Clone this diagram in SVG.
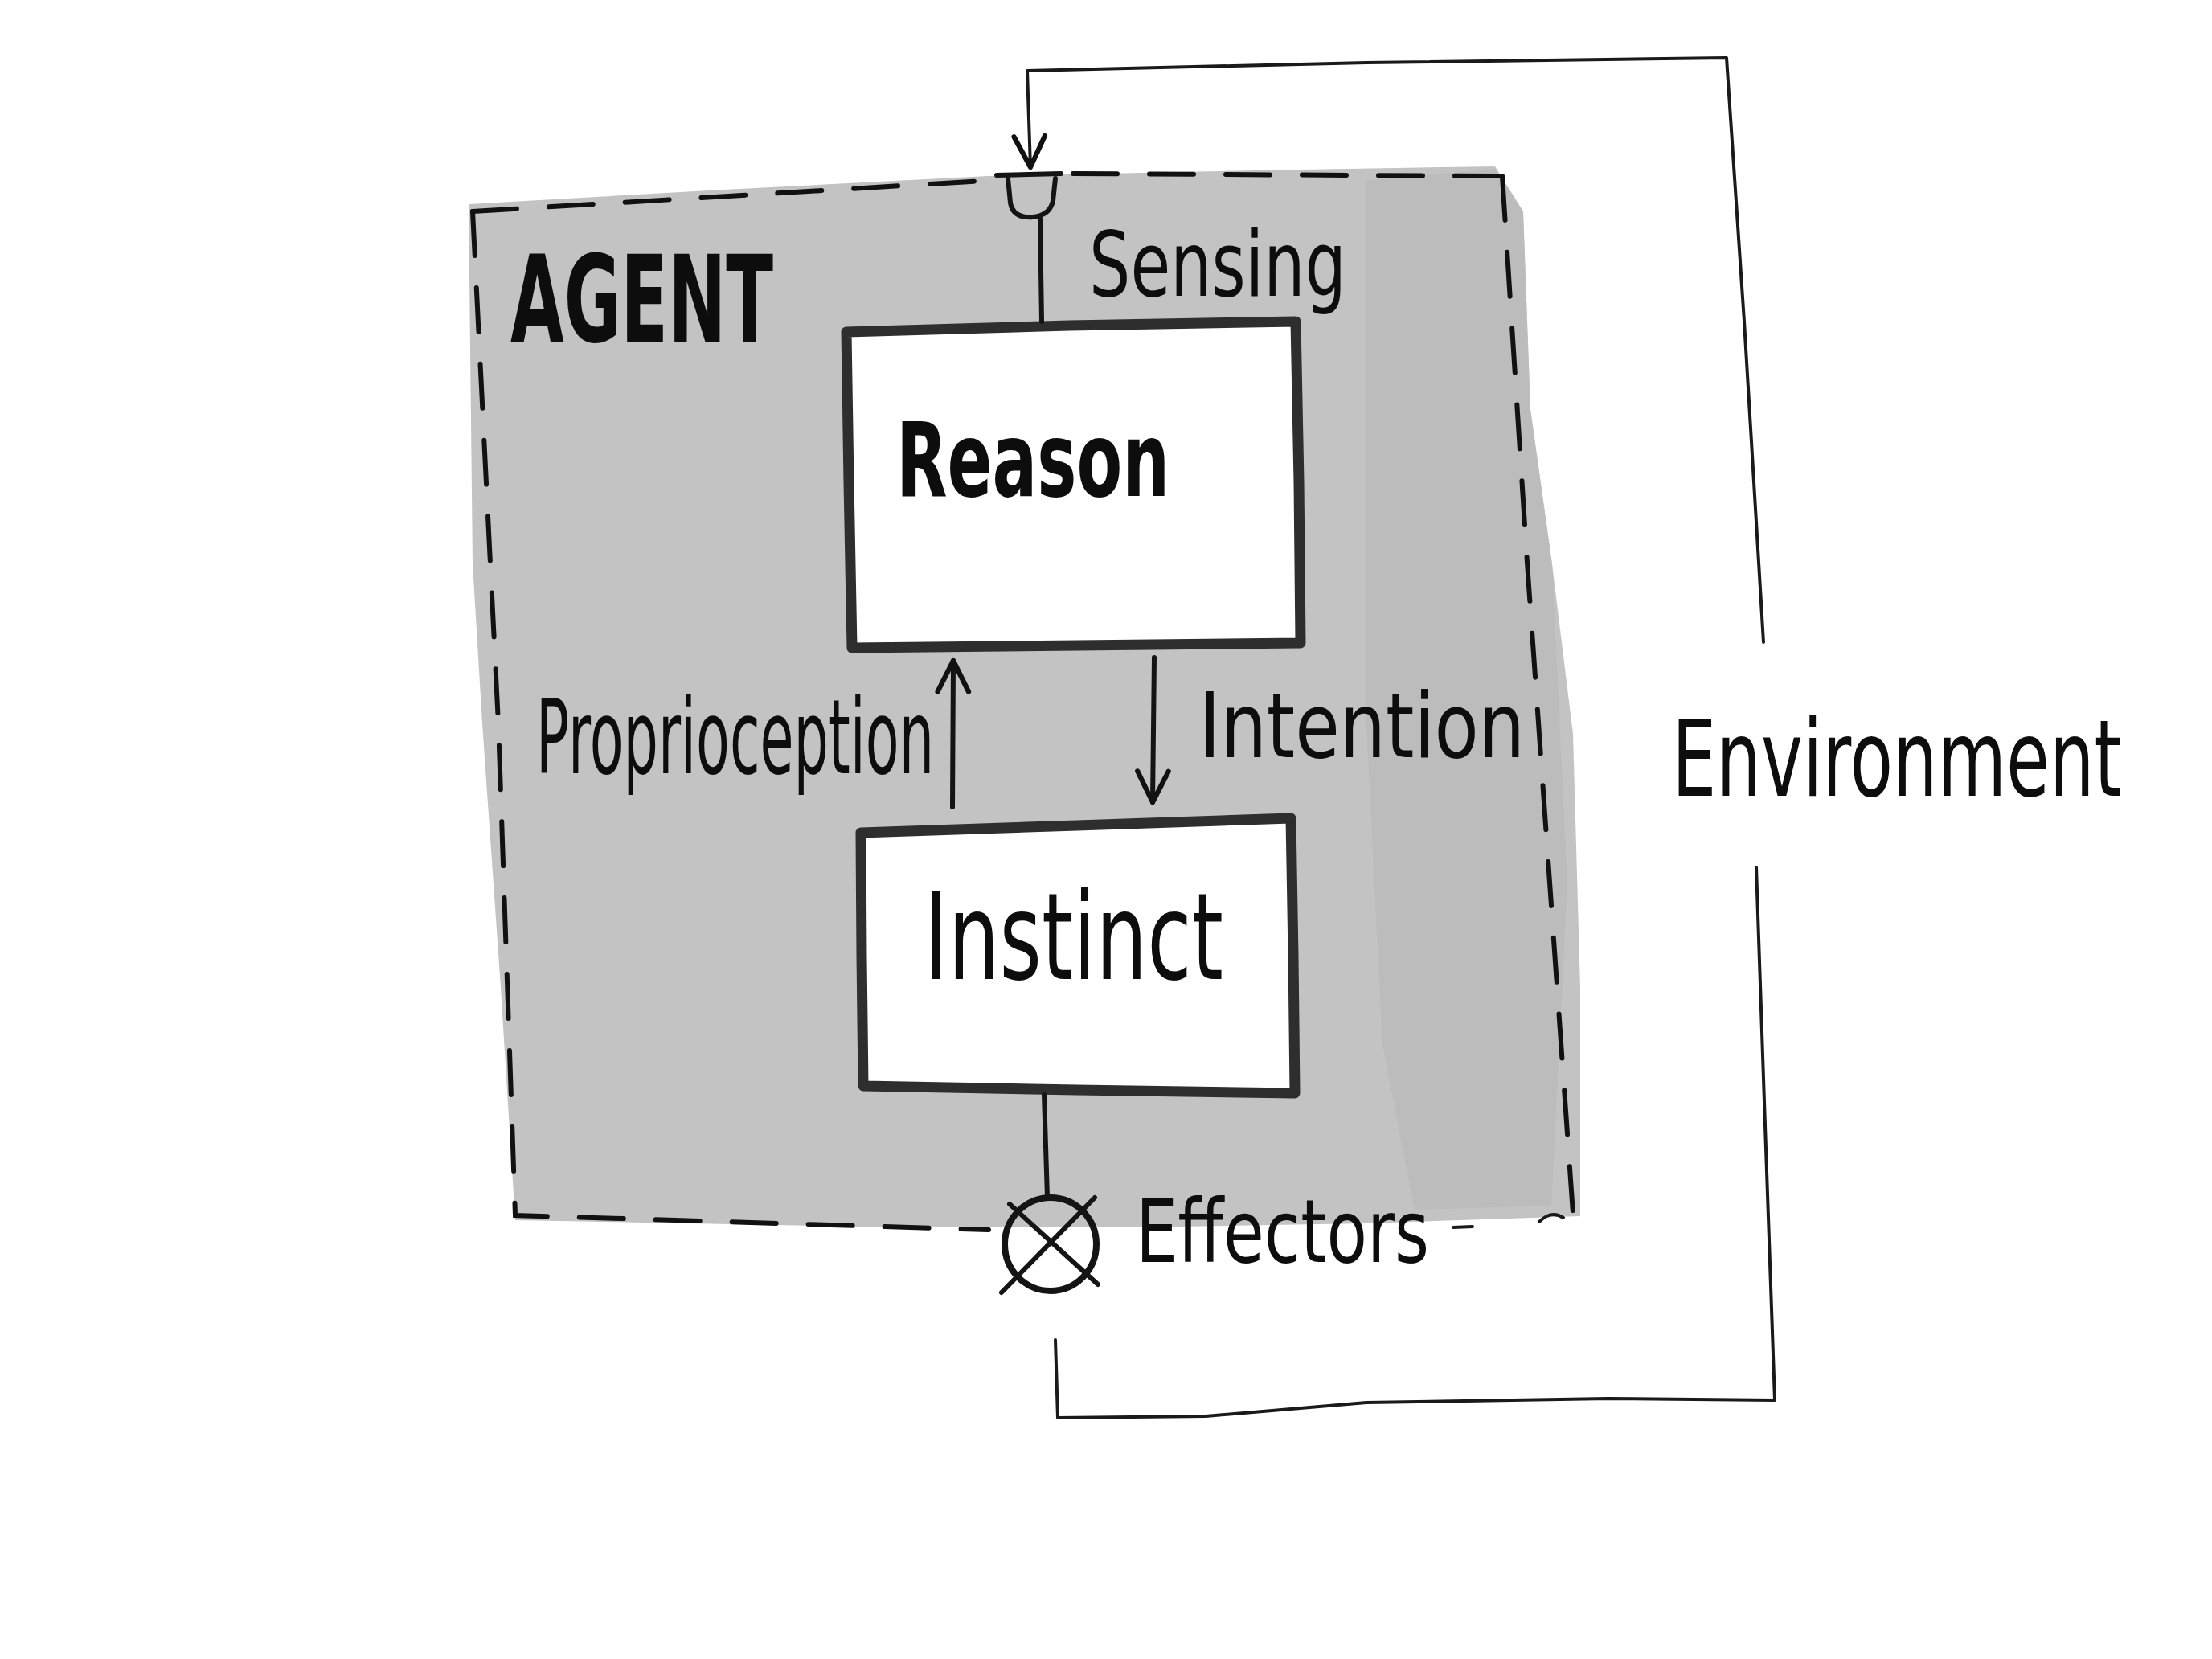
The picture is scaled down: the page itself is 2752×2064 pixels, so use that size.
<svg xmlns="http://www.w3.org/2000/svg" width="2752" height="2064" viewBox="0 0 2752 2064">
  <defs>
    <style>
      .ink { fill: none; stroke: #141414; stroke-width: 6; stroke-linecap: round; stroke-linejoin: round; }
      .thin { fill: none; stroke: #1a1a1a; stroke-width: 4; stroke-linecap: round; stroke-linejoin: round; }
      .dash { fill: none; stroke: #111; stroke-width: 6; stroke-linecap: round; stroke-dasharray: 55 40; }
      .box { fill: #ffffff; stroke: #2e2e2e; stroke-width: 13; stroke-linejoin: round; }
      .lbl { font-family: "DejaVu Sans", "Liberation Sans", sans-serif; fill: #0d0d0d; }
      .heavy { font-weight: bold; }
    </style>
    <marker id="arr" viewBox="0 0 20 20" refX="18" refY="10" markerWidth="48" markerHeight="48" markerUnits="userSpaceOnUse" orient="auto">
      <path d="M2,2 L18,10 L2,18" fill="none" stroke="#111" stroke-width="2.6" stroke-linecap="round" stroke-linejoin="round"/>
    </marker>
  </defs>

  <rect x="0" y="0" width="2752" height="2064" fill="#ffffff"/>

  <g id="agent">
    <path d="M583,254 L900,236 L1229,219 L1560,212 L1860,207 L1895,263 L1904,509 L1931,702 L1957,913 L1966,1229 L1966,1513 L1700,1522 L1404,1527 L1123,1527 L641,1518 L623,1229 L600,900 L588,702 Z" fill="#c3c3c3"/>
    <path d="M1700,225 L1860,210 L1895,263 L1904,509 L1931,702 L1950,1100 L1930,1500 L1760,1505 L1720,1300 L1700,900 Z" fill="#b9b9b9" opacity="0.7"/>
    <path class="dash" d="M588,263 L1240,224"/>
    <path class="dash" d="M1335,216 L1869,219"/>
    <path class="dash" d="M1869,219 L1900,700 L1957,1510"/>
    <path class="dash" d="M588,263 L620,900 L641,1512 L1230,1530"/>
    <path class="thin" d="M1808,1527 L1832,1526" stroke-width="6"/>
    <path class="thin" d="M1915,1520 Q1930,1505 1945,1515"/>
    <text class="lbl heavy" x="635" y="425" font-size="150" textLength="327" lengthAdjust="spacingAndGlyphs">AGENT</text>
  </g>

  <g id="sensor">
    <path class="ink" d="M1240,218 L1320,216"/>
    <path class="ink" d="M1254,222 L1257,252 Q1260,272 1285,270 Q1306,268 1310,250 L1313,222" stroke-width="8"/>
    <text class="lbl" x="1355" y="368" font-size="112" textLength="320" lengthAdjust="spacingAndGlyphs">Sensing</text>
  </g>

  <g id="reason">
    <path class="box" d="M1053,413 L1330,405 L1612,400 L1616,600 L1618,800 L1340,803 L1060,806 L1056,600 Z"/>
    <text class="lbl heavy" x="1115" y="617" font-size="128" textLength="340" lengthAdjust="spacingAndGlyphs">Reason</text>
  </g>

  <g id="instinct">
    <path class="box" d="M1071,1036 L1340,1027 L1606,1018 L1609,1190 L1611,1360 L1340,1356 L1074,1351 L1072,1190 Z"/>
    <text class="lbl" x="1150" y="1218" font-size="150" textLength="372" lengthAdjust="spacingAndGlyphs">Instinct</text>
  </g>

  <g id="effector">
    <ellipse cx="1307" cy="1548" rx="57" ry="58" fill="none" stroke="#141414" stroke-width="8"/>
    <path class="ink" d="M1246,1608 L1362,1490" stroke-width="9"/>
    <path class="ink" d="M1256,1498 L1366,1598" stroke-width="9"/>
    <text class="lbl" x="1413" y="1570" font-size="108" textLength="365" lengthAdjust="spacingAndGlyphs">Effectors</text>
  </g>

  <g id="environment">
    <text class="lbl" x="2080" y="990" font-size="132" textLength="560" lengthAdjust="spacingAndGlyphs">Environment</text>
  </g>

  <g id="connectors">
    <path class="ink" d="M1294,272 L1296,400" stroke-width="6"/>
    <path class="ink" d="M1299,1362 L1303,1490" stroke-width="8"/>
    <path class="ink" d="M1185,1004 L1186,822" stroke-width="5" marker-end="url(#arr)"/>
    <path class="ink" d="M1436,818 L1434,998" stroke-width="8" marker-end="url(#arr)"/>
    <path class="thin" d="M2194,799 L2170,400 L2148,72 L1700,78 L1278,88 L1282,208" marker-end="url(#arr)"/>
    <path class="thin" d="M2185,1079 L2196,1400 L2208,1742 L2000,1740 L1700,1745 L1500,1762 L1316,1764 L1313,1667"/>
    <text class="lbl" x="667" y="962" font-size="128" textLength="495" lengthAdjust="spacingAndGlyphs">Proprioception</text>
    <text class="lbl" x="1492" y="942" font-size="112" textLength="405" lengthAdjust="spacingAndGlyphs">Intention</text>
  </g>
</svg>
